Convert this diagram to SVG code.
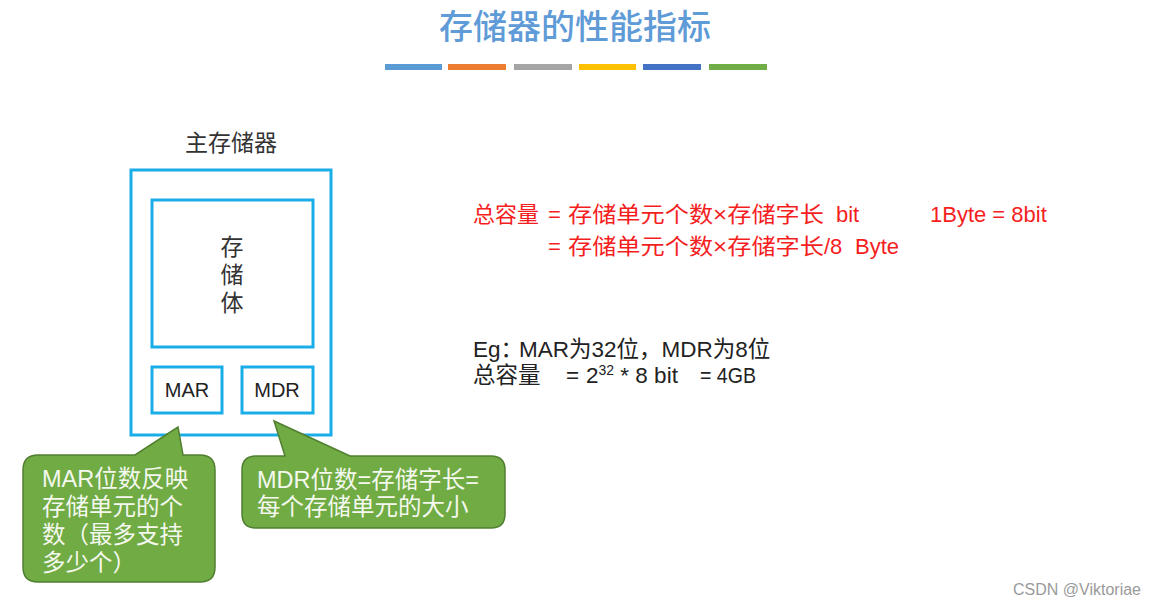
<svg xmlns="http://www.w3.org/2000/svg" width="1174" height="606" viewBox="0 0 1174 606">
  <style>
    text { font-family: "Liberation Sans", "Noto Sans CJK SC", sans-serif; }
    .box { fill: #ffffff; stroke: #1aaee8; stroke-width: 3; }
    .label { font-size: 23px; fill: #333333; }
    .boxlbl { font-size: 20px; fill: #222222; text-anchor: middle; }
    .callout { fill: #70ab44; stroke: #507f30; stroke-width: 1.5; }
    .ctext { font-size: 23.5px; fill: #f4f8ee; }
    .red { font-size: 22px; fill: #f51e1e; }
    .black { font-size: 22.5px; fill: #222222; }
  </style>

  <rect width="1174" height="606" fill="#ffffff"/>

  <!-- title -->
  <g id="title">
    <text x="575" y="39" text-anchor="middle" font-size="34" fill="#5f9bd6" style="font-family:'Noto Sans CJK SC',sans-serif;font-weight:500">存储器的性能指标</text>
    <rect x="385" y="64" width="57" height="6" fill="#5b9bd5"/>
    <rect x="448" y="64" width="58" height="6" fill="#ed7d31"/>
    <rect x="514" y="64" width="58" height="6" fill="#a5a5a5"/>
    <rect x="579" y="64" width="57" height="6" fill="#ffc000"/>
    <rect x="643" y="64" width="58" height="6" fill="#4472c4"/>
    <rect x="709" y="64" width="58" height="6" fill="#70ad47"/>
  </g>

  <!-- main memory -->
  <g id="main-memory">
    <text class="label" x="231" y="151" text-anchor="middle">主存储器</text>
    <rect class="box" x="131" y="170" width="200" height="265"/>
  </g>
  <g id="storage-body">
    <rect class="box" x="152" y="200" width="161" height="147"/>
    <text class="label" x="232" y="255" text-anchor="middle">存</text>
    <text class="label" x="232" y="283" text-anchor="middle">储</text>
    <text class="label" x="232" y="311" text-anchor="middle">体</text>
  </g>
  <g id="mar">
    <rect class="box" x="152" y="367" width="70" height="46"/>
    <text class="boxlbl" x="187" y="397">MAR</text>
  </g>
  <g id="mdr">
    <rect class="box" x="242" y="367" width="71" height="46"/>
    <text class="boxlbl" x="277" y="397">MDR</text>
  </g>

  <!-- callouts -->
  <g id="connectors">
    <g id="mar-note">
      <path class="callout" d="M38,455 L135,455 L178,427 L183,455 L200,455 Q215,455 215,470 L215,567 Q215,582 200,582 L38,582 Q23,582 23,567 L23,470 Q23,455 38,455 Z"/>
      <text class="ctext" x="42" y="487">MAR位数反映</text>
      <text class="ctext" x="42" y="515">存储单元的个</text>
      <text class="ctext" x="42" y="543">数（最多支持</text>
      <text class="ctext" x="42" y="571">多少个）</text>
    </g>
    <g id="mdr-note">
      <path class="callout" d="M256,456 L285,456 L274,421 L350,456 L491,456 Q505,456 505,470 L505,514 Q505,528 491,528 L256,528 Q242,528 242,514 L242,470 Q242,456 256,456 Z"/>
      <text class="ctext" x="257" y="488">MDR位数=存储字长=</text>
      <text class="ctext" x="257" y="515">每个存储单元的大小</text>
    </g>
  </g>

  <!-- capacity formulas -->
  <g id="formula">
    <text class="red" x="473" y="222">总容量</text>
    <text class="red" x="548" y="222">=</text>
    <text class="red" x="568" y="222" textLength="256" lengthAdjust="spacingAndGlyphs">存储单元个数×存储字长</text>
    <text class="red" x="836" y="222">bit</text>
    <text class="red" x="930" y="222">1Byte = 8bit</text>
    <text class="red" x="548" y="254">=</text>
    <text class="red" x="568" y="254" textLength="256" lengthAdjust="spacingAndGlyphs">存储单元个数×存储字长</text>
    <text class="red" x="824" y="254">/8</text>
    <text class="red" x="855" y="254">Byte</text>
  </g>

  <g id="example">
    <text class="black" x="473" y="357">Eg：<tspan x="519">MAR为32位，MDR为8位</tspan></text>
    <text class="black" x="473" y="383">总容量</text>
    <text class="black" x="566" y="383">=</text>
    <text class="black" x="586" y="383">2<tspan font-size="14" dy="-8">32</tspan><tspan dy="8"> * 8 bit</tspan></text>
    <text class="black" x="700" y="383" textLength="56" lengthAdjust="spacingAndGlyphs">= 4GB</text>
  </g>

  <text x="1013" y="595" font-size="16" fill="#9a9a9a">CSDN @Viktoriae</text>
</svg>
